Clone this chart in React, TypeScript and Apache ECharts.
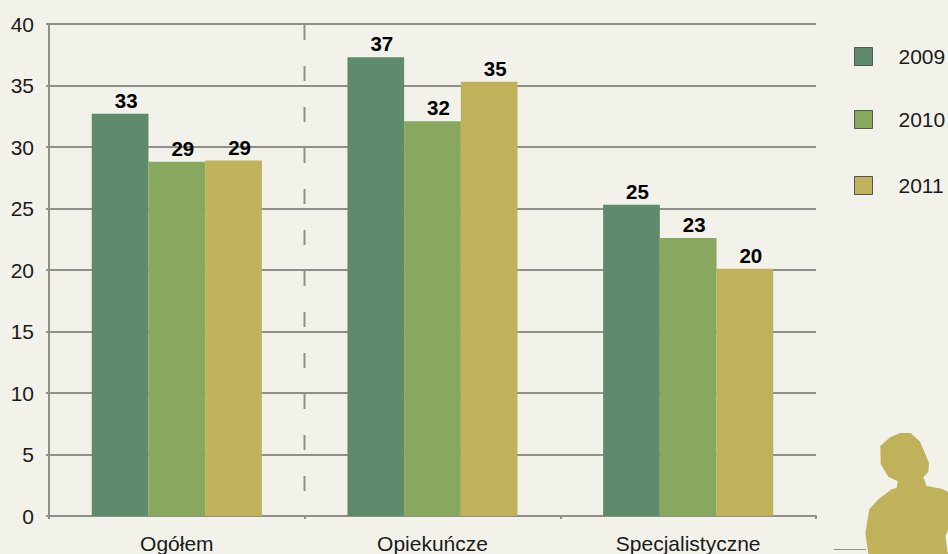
import React, { useEffect, useRef } from "react";
import * as echarts from "echarts";

const categories = ["Ogółem", "Opiekuńcze", "Specjalistyczne"];
const seriesNames = ["2009", "2010", "2011"];
const values2009 = [32.7, 37.3, 25.3];
const values2010 = [28.8, 32.1, 22.6];
const values2011 = [28.9, 35.3, 20.1];
const seriesColors = ["#5E8B6B", "#88A75F", "#BFB25A"];
const legendTops = [46, 109, 175];
const FONT = '"Liberation Sans", Arial, sans-serif';
const GREY = "#8F8F8B";

const silhouette = [
  [240, 39], [272, 39], [300, 65], [315, 100], [327, 128], [325, 155], [310, 172], [320, 198],
  [365, 206], [384, 216], [384, 330], [376, 350], [384, 402], [145, 402], [136, 340], [148, 268],
  [175, 238], [215, 208], [230, 204], [233, 184], [205, 170], [182, 132], [181, 78], [210, 52],
].map(([x, y]) => [820 + x / 3, 420 + y / 3]);

export default function App() {
  const ref = useRef<HTMLDivElement>(null);
  useEffect(() => {
    const chart = echarts.init(ref.current!, null, { renderer: "svg" });
    const data = [values2009, values2010, values2011];
    chart.setOption({
      animation: false,
      backgroundColor: "#F2F2EA",
      textStyle: { fontFamily: FONT },
      grid: { left: 49, right: 132, top: 24, bottom: 37 },
      legend: seriesNames.map((name, i) => ({
        data: [name],
        left: 854,
        top: legendTops[i],
        padding: 0,
        itemWidth: 18,
        itemHeight: 18,
        icon: "rect",
        itemStyle: { borderColor: "#555", borderWidth: 1 },
        selectedMode: false,
        textStyle: { fontFamily: FONT, fontSize: 21, color: "#1a1a1a", padding: [6, 0, 0, 21] },
      })),
      xAxis: {
        type: "category",
        data: categories,
        axisLine: { lineStyle: { color: GREY, width: 2 } },
        axisTick: { show: true, length: 3, lineStyle: { color: GREY, width: 2 } },
        axisLabel: { color: "#1a1a1a", fontSize: 21, fontFamily: FONT, margin: 17 },
      },
      yAxis: {
        type: "value",
        min: 0,
        max: 40,
        interval: 5,
        axisLine: { show: true, lineStyle: { color: GREY, width: 2 } },
        axisTick: { show: true, length: 3, lineStyle: { color: GREY, width: 2 } },
        splitLine: { lineStyle: { color: GREY, width: 2 } },
        axisLabel: { color: "#1a1a1a", fontSize: 21, fontFamily: FONT, margin: 15 },
      },
      series: seriesNames.map((name, i) => ({
        name,
        type: "bar",
        data: data[i],
        barWidth: 56.7,
        barGap: 0,
        itemStyle: { color: seriesColors[i] },
        label: {
          show: true,
          position: "top",
          distance: 3,
          offset: [6, 0],
          color: "#000",
          fontSize: 20.5,
          fontWeight: "bold",
          fontFamily: FONT,
          formatter: (p: any) => String(Math.round(p.value)),
        },
      })),
      graphic: [
        {
          type: "line",
          silent: true,
          z: 1,
          shape: { x1: 304.5, y1: 25, x2: 304.5, y2: 517 },
          style: { stroke: GREY, lineWidth: 2, lineDash: [15, 26] },
        },
        {
          type: "line",
          silent: true,
          shape: { x1: 834, y1: 549.5, x2: 866, y2: 549.5 },
          style: { stroke: GREY, lineWidth: 1 },
        },
        {
          type: "polygon",
          silent: true,
          shape: { points: silhouette },
          style: { fill: "#BFB25A" },
        },
      ],
    });
    return () => chart.dispose();
  }, []);
  return <div ref={ref} style={{ position: "fixed", left: 0, top: 0, width: 948, height: 554 }} />;
}
